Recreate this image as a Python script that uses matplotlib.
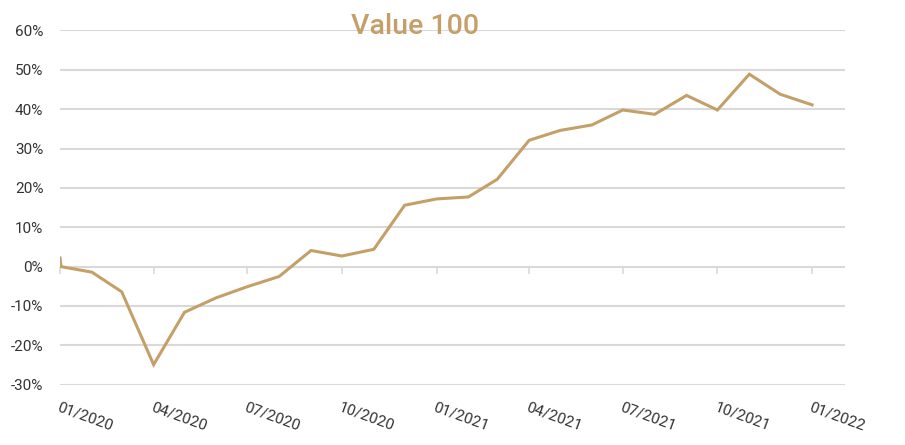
import matplotlib
matplotlib.use("Agg")
import matplotlib.pyplot as plt
from matplotlib.ticker import PercentFormatter
import pandas as pd

# Data (cumulative performance, %)
dates = ["2020-01-01", "2020-01-02", "2020-02-01", "2020-03-01", "2020-04-01", "2020-05-01",
         "2020-06-01", "2020-07-01", "2020-08-01", "2020-09-01", "2020-10-01",
         "2020-11-01", "2020-12-01", "2021-01-01", "2021-02-01", "2021-03-01",
         "2021-04-01", "2021-05-01", "2021-06-01", "2021-07-01", "2021-08-01",
         "2021-09-01", "2021-10-01", "2021-11-01", "2021-12-01", "2022-01-01"]
values = [2.2, 0.0, -1.4, -6.4, -24.9, -11.6, -7.9, -5.1, -2.5, 4.1, 2.7,
          4.4, 15.6, 17.2, 17.7, 22.2, 32.1, 34.6, 36.0, 39.8, 38.7,
          43.5, 39.8, 48.9, 43.8, 41.1]
tick_dates = ["2020-01-01", "2020-04-01", "2020-07-01", "2020-10-01", "2021-01-01",
              "2021-04-01", "2021-07-01", "2021-10-01", "2022-01-01"]
y_ticks = [-30, -20, -10, 0, 10, 20, 30, 40, 50, 60]

gold = "#C4A068"
grid_col = "#D9D9D9"
text_col = "#333333"
plt.rcParams['font.family'] = ['Roboto', 'DejaVu Sans']
plt.rcParams['axes.unicode_minus'] = False

x = pd.to_datetime(dates)
xt = pd.to_datetime(tick_dates)

fig = plt.figure(figsize=(9.05, 4.45), dpi=100)
ax = fig.add_axes([0.0663, 0.1355, 0.8674, 0.7960])

ax.plot(x, values, color=gold, lw=2.2, solid_joinstyle="miter", zorder=3)

ax.set_ylim(-30, 60)
ax.set_xlim(pd.Timestamp("2020-01-01"), pd.Timestamp("2022-02-02"))
ax.set_yticks(y_ticks)
ax.yaxis.set_major_formatter(PercentFormatter(decimals=0))
ax.grid(axis="y", color=grid_col, lw=1.5, zorder=0)
ax.set_axisbelow(True)

for s in ["top", "right", "left"]:
    ax.spines[s].set_visible(False)
# x ticks sit on the zero line, spine itself hidden
ax.spines["bottom"].set_position(("data", 0))
ax.spines["bottom"].set_visible(False)
ax.set_xticks(xt)
ax.tick_params(axis="x", length=5, width=1.2, color=grid_col, direction="out", labelbottom=False)
ax.tick_params(axis="y", length=0, pad=12, labelsize=11, labelcolor=text_col)

# rotated date labels below the plot area
for d in xt:
    ax.text(d, -0.045, d.strftime("%m/%Y"), transform=ax.get_xaxis_transform(),
            rotation=-20, rotation_mode="anchor", ha="left", va="top",
            fontsize=11, color=text_col)

fig.text(0.4586, 0.940, "Value 100", ha="center", va="center",
         fontsize=20.5, fontweight="medium", color=gold)

fig.savefig("out.png", dpi=100)
